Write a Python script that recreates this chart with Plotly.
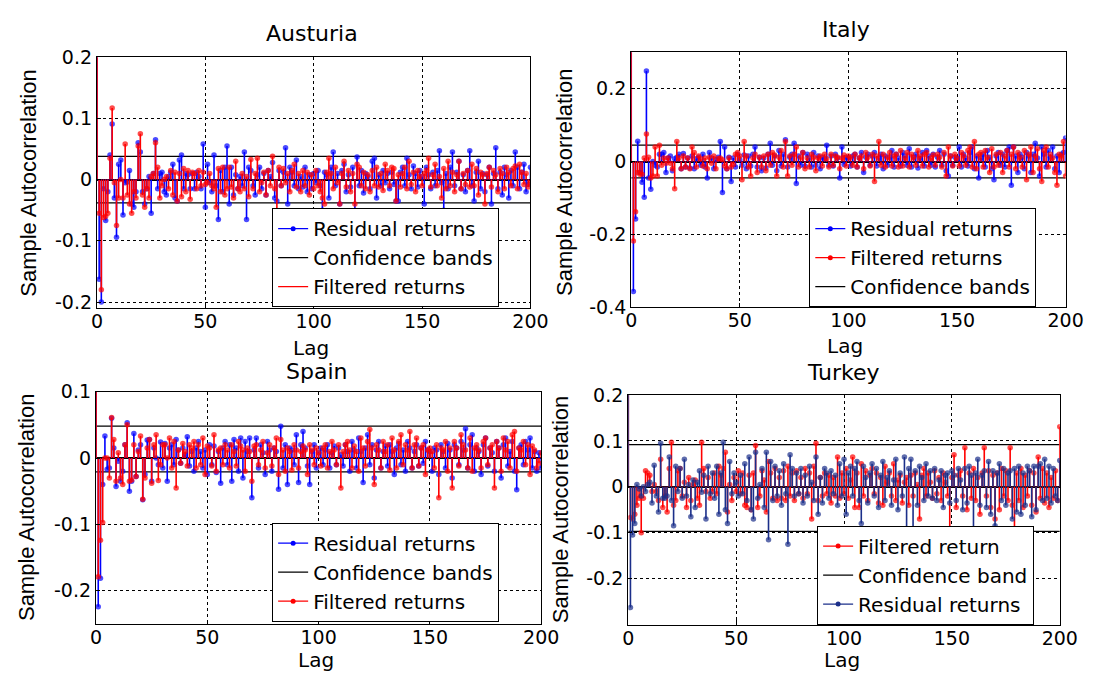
import plotly.graph_objects as go

# ---------------- data (lag 0 .. 200) ----------------
lags = list(range(0, 201))

aus_resid = [1.0,
 -0.163, -0.200, -0.015, -0.067, -0.020, 0.040, 0.091, -0.030, -0.094, 0.025,
 0.032, -0.058, -0.005, -0.004, 0.015, -0.040, -0.045, -0.020, 0.060, 0.045,
 -0.020, -0.040, -0.015, 0.005, -0.055, 0.010, 0.065, -0.015, 0.010, 0.012,
 -0.020, -0.025, 0.005, 0.012, 0.025, -0.030, -0.035, 0.032, 0.040, -0.015,
 0.010, 0.008, -0.015, 0.010, -0.015, 0.012, 0.005, -0.015, 0.058, -0.045,
 0.025, -0.005, -0.020, 0.040, -0.010, -0.065, 0.015, -0.020, 0.020, 0.055,
 -0.040, 0.020, -0.025, 0.008, -0.015, 0.005, -0.010, 0.045, -0.065, 0.020,
 0.015, -0.010, -0.025, 0.008, 0.020, -0.015, 0.010, -0.025, 0.015, 0.005,
 0.028, -0.030, -0.035, 0.015, -0.010, 0.012, 0.052, -0.040, 0.020, 0.012,
 -0.010, 0.032, -0.015, 0.005, -0.012, 0.020, -0.020, 0.008, -0.015, 0.010,
 -0.005, 0.015, -0.010, -0.050, 0.012, 0.008, -0.030, 0.020, 0.045, -0.010,
 0.010, -0.040, 0.015, 0.025, -0.020, 0.008, -0.012, 0.020, -0.065, 0.037,
 -0.010, 0.015, -0.022, 0.010, 0.005, -0.015, 0.030, 0.035, -0.030, 0.008,
 -0.010, 0.015, -0.005, 0.010, -0.015, 0.012, -0.008, -0.035, -0.035, 0.012,
 0.020, -0.010, 0.035, 0.008, -0.015, 0.022, 0.010, -0.012, 0.015, 0.005,
 -0.040, 0.020, 0.008, -0.015, 0.012, -0.010, 0.015, 0.047, -0.005, -0.050,
 0.010, -0.015, 0.020, 0.045, -0.010, 0.012, 0.030, -0.015, 0.008, -0.020,
 0.015, 0.047, -0.010, -0.035, 0.012, 0.030, -0.015, 0.010, -0.020, 0.008,
 0.020, -0.040, 0.010, 0.052, -0.015, 0.012, -0.025, 0.020, 0.008, -0.030,
 0.015, -0.010, 0.045, 0.020, -0.015, 0.012, 0.025, -0.020, -0.008, 0.020]

aus_filt = [1.0,
 -0.055, -0.180, -0.062, -0.060, -0.055, 0.035, 0.117, -0.005, -0.075, -0.030,
 0.000, -0.030, 0.058, -0.025, -0.040, -0.055, -0.020, -0.030, 0.055, 0.075,
 -0.025, -0.045, -0.015, -0.030, 0.005, 0.010, 0.060, 0.020, -0.030, -0.010,
 0.000, 0.005, -0.015, 0.015, -0.025, 0.012, -0.035, 0.010, -0.028, 0.018,
 -0.020, 0.015, -0.032, 0.012, 0.010, -0.015, 0.015, -0.010, 0.012, -0.008,
 -0.005, 0.010, -0.010, -0.015, -0.045, 0.018, -0.020, 0.020, -0.025, -0.015,
 0.020, -0.012, -0.030, 0.030, -0.015, -0.020, 0.010, -0.015, 0.005, -0.028,
 0.033, -0.015, 0.010, 0.035, -0.020, -0.005, 0.012, -0.025, 0.015, -0.010,
 0.038, -0.015, -0.055, 0.020, -0.010, 0.018, -0.005, 0.010, -0.020, 0.015,
 0.025, -0.012, 0.010, -0.020, 0.015, -0.010, 0.012, -0.025, 0.008, -0.015,
 0.015, -0.010, -0.020, -0.030, -0.040, 0.012, 0.035, 0.010, -0.015, 0.020,
 -0.005, -0.040, 0.010, 0.030, -0.012, 0.015, -0.020, 0.010, -0.040, 0.025,
 0.020, -0.010, 0.012, -0.015, 0.008, -0.020, 0.015, -0.010, 0.020, -0.012,
 0.010, -0.018, 0.025, 0.015, -0.010, 0.020, 0.018, -0.035, 0.008, -0.012,
 0.010, 0.020, -0.015, 0.030, -0.008, 0.012, -0.020, 0.015, 0.005, -0.010,
 0.010, 0.015, 0.035, -0.012, 0.008, 0.025, -0.010, 0.005, -0.030, 0.018,
 -0.015, 0.030, -0.010, 0.012, -0.020, 0.008, 0.030, -0.015, 0.010, -0.008,
 0.015, -0.012, 0.025, -0.010, 0.018, -0.025, 0.012, 0.008, -0.040, 0.010,
 0.020, -0.012, 0.015, 0.008, -0.020, 0.018, 0.010, -0.015, 0.020, 0.012,
 -0.010, 0.018, 0.022, -0.015, 0.025, 0.012, -0.008, 0.010, -0.012, -0.005]

ita_resid = [1.0,
 -0.357, -0.158, 0.056, -0.030, -0.057, -0.098, 0.249, -0.045, -0.076, 0.000,
 -0.010, -0.015, 0.020, 0.020, 0.025, -0.030, 0.010, 0.015, -0.025, 0.008,
 0.012, 0.020, -0.020, 0.022, -0.015, 0.010, -0.018, 0.015, -0.020, 0.008,
 0.012, -0.010, 0.020, -0.015, -0.045, 0.025, 0.010, -0.020, 0.005, 0.012,
 0.055, -0.085, 0.040, -0.020, 0.012, -0.055, 0.010, -0.015, 0.020, 0.005,
 -0.010, 0.018, -0.020, 0.015, -0.012, 0.020, 0.040, -0.015, 0.012, -0.025,
 0.010, -0.018, 0.020, 0.050, -0.010, 0.015, -0.025, 0.030, -0.012, 0.020,
 0.060, -0.015, 0.012, 0.020, 0.050, -0.060, 0.015, -0.010, 0.025, -0.012,
 0.020, 0.010, -0.015, 0.025, -0.010, 0.015, -0.020, 0.012, 0.008, 0.045,
 -0.010, 0.015, -0.012, 0.020, 0.010, -0.045, 0.040, -0.008, 0.012, 0.010,
 -0.012, 0.015, 0.020, -0.015, 0.010, 0.025, -0.030, 0.012, 0.020, -0.010,
 0.015, 0.025, -0.012, 0.010, 0.020, -0.020, 0.015, -0.010, 0.012, 0.030,
 -0.015, 0.020, 0.010, -0.012, 0.025, 0.015, -0.010, 0.035, -0.015, 0.012,
 0.020, -0.018, 0.010, 0.025, -0.012, 0.030, 0.015, -0.010, 0.020, -0.015,
 0.012, 0.030, -0.010, 0.020, -0.025, -0.040, 0.015, -0.010, 0.012, 0.008,
 0.040, -0.015, 0.020, 0.010, -0.012, 0.025, 0.040, -0.020, 0.015, -0.045,
 0.010, 0.020, -0.015, 0.030, 0.012, -0.020, -0.050, 0.015, 0.025, -0.010,
 0.020, -0.015, 0.030, 0.040, -0.065, 0.040, 0.015, -0.030, 0.020, 0.012,
 -0.020, 0.025, 0.015, -0.030, 0.020, 0.050, 0.010, -0.040, 0.040, 0.020,
 -0.015, 0.030, 0.012, 0.040, -0.020, 0.015, -0.030, 0.020, 0.025, 0.065]

ita_filt = [1.0,
 -0.218, -0.138, -0.030, -0.035, -0.035, 0.010, 0.076, 0.012, -0.045, -0.040,
 0.040, -0.040, 0.045, -0.010, 0.010, -0.005, 0.010, -0.005, -0.020, -0.075,
 0.055, 0.010, -0.020, 0.015, -0.015, 0.010, -0.020, 0.040, 0.025, -0.015,
 0.015, 0.008, -0.012, 0.010, -0.020, 0.012, -0.005, 0.015, -0.020, 0.008,
 0.010, 0.005, -0.012, -0.020, 0.010, -0.015, -0.008, 0.020, 0.025, 0.015,
 -0.050, 0.055, 0.015, -0.015, -0.040, 0.010, 0.020, -0.030, 0.012, -0.015,
 0.015, -0.025, 0.020, -0.010, 0.025, 0.018, -0.040, 0.012, 0.030, -0.015,
 0.055, -0.040, 0.015, -0.010, 0.020, 0.040, -0.015, 0.012, 0.025, -0.020,
 0.010, -0.015, 0.020, 0.012, -0.025, 0.010, 0.015, -0.012, 0.020, 0.008,
 -0.015, 0.020, -0.010, 0.015, 0.012, -0.020, 0.010, 0.018, -0.012, 0.015,
 0.012, -0.010, 0.020, -0.015, 0.010, 0.015, -0.020, 0.025, 0.012, -0.012,
 0.020, -0.055, 0.015, 0.055, -0.010, 0.020, -0.015, 0.012, 0.025, -0.012,
 0.015, 0.020, -0.015, 0.030, -0.012, 0.010, 0.025, -0.015, 0.020, 0.012,
 -0.010, 0.030, 0.015, -0.012, 0.020, 0.025, -0.015, 0.010, 0.018, -0.010,
 0.020, 0.012, -0.015, 0.025, -0.040, 0.040, 0.015, -0.012, 0.020, 0.010,
 -0.012, 0.025, 0.015, -0.010, 0.030, 0.040, -0.015, 0.055, -0.020, 0.020,
 0.025, -0.015, 0.030, 0.012, -0.030, 0.035, -0.015, 0.020, -0.010, 0.025,
 -0.030, 0.015, 0.030, -0.015, 0.020, 0.040, -0.020, 0.025, 0.012, -0.015,
 0.030, -0.050, 0.020, 0.040, -0.030, 0.015, 0.035, -0.020, -0.055, 0.030,
 0.040, -0.015, 0.020, 0.010, -0.030, -0.065, 0.020, 0.015, 0.055, -0.040]

spa_resid = [1.0,
 -0.224, -0.181, -0.040, 0.033, -0.017, -0.015, 0.060, 0.015, -0.043, -0.005,
 -0.035, -0.020, 0.020, 0.053, -0.050, -0.035, 0.037, -0.028, 0.012, 0.020,
 -0.063, -0.025, 0.027, 0.028, -0.035, 0.015, 0.000, -0.010, 0.024, -0.015,
 0.022, -0.035, 0.015, 0.020, -0.010, 0.028, 0.012, -0.008, 0.015, 0.005,
 0.032, -0.012, 0.010, -0.020, 0.015, 0.025, 0.010, -0.015, 0.012, -0.025,
 0.020, -0.010, 0.018, -0.022, 0.010, -0.038, 0.015, 0.025, -0.010, 0.020,
 -0.035, 0.028, 0.015, -0.020, 0.030, -0.030, 0.025, 0.010, 0.030, -0.060,
 0.012, 0.030, -0.015, 0.020, 0.008, -0.025, 0.025, 0.012, -0.020, 0.015,
 0.010, -0.047, 0.048, -0.015, 0.020, -0.040, 0.015, 0.012, -0.010, 0.035,
 -0.037, 0.020, 0.040, 0.015, -0.012, -0.040, 0.010, 0.020, -0.015, 0.008,
 0.015, -0.010, 0.012, 0.020, -0.015, 0.008, 0.018, -0.010, 0.015, 0.005,
 -0.012, 0.020, 0.010, -0.020, 0.025, 0.012, -0.015, 0.030, 0.010, -0.037,
 0.015, 0.035, -0.010, 0.020, -0.030, 0.012, 0.025, -0.015, 0.010, 0.018,
 -0.012, 0.020, 0.010, -0.025, 0.015, 0.022, -0.010, 0.012, -0.020, 0.025,
 0.015, -0.015, 0.010, 0.020, -0.012, 0.015, -0.008, 0.025, 0.012, 0.010,
 -0.020, 0.015, 0.012, -0.025, 0.020, 0.010, -0.015, 0.022, 0.012, -0.030,
 0.020, 0.015, -0.010, 0.025, 0.012, 0.044, -0.015, 0.020, 0.035, -0.020,
 0.015, 0.010, -0.025, 0.020, 0.030, -0.012, 0.015, 0.008, -0.020, 0.025,
 0.015, -0.030, 0.020, 0.030, -0.012, 0.010, 0.025, -0.020, -0.048, 0.015,
 0.020, -0.010, 0.025, 0.012, 0.030, -0.015, 0.010, -0.020, 0.008, -0.015]

spa_filt = [1.0,
 -0.179, -0.124, -0.097, 0.000, 0.000, -0.030, 0.061, 0.028, -0.035, 0.008,
 -0.030, -0.040, 0.020, 0.050, -0.035, -0.033, 0.020, -0.028, 0.010, 0.033,
 -0.062, -0.030, 0.015, 0.028, -0.038, 0.020, 0.035, -0.034, -0.010, 0.020,
 0.020, 0.000, 0.030, -0.015, 0.025, -0.045, 0.012, -0.008, 0.022, 0.010,
 -0.012, 0.020, 0.015, 0.025, -0.015, 0.020, -0.010, 0.030, -0.025, 0.018,
 0.015, -0.012, 0.035, -0.020, 0.012, 0.015, -0.010, 0.020, 0.012, -0.015,
 0.020, 0.010, -0.012, 0.025, 0.018, 0.012, -0.020, 0.015, 0.010, -0.035,
 0.018, 0.020, -0.010, 0.012, 0.025, -0.015, 0.008, 0.020, -0.012, 0.015,
 0.030, -0.025, 0.028, 0.012, -0.020, 0.015, 0.010, -0.018, 0.020, 0.012,
 -0.015, 0.010, 0.018, 0.012, -0.025, 0.020, 0.012, -0.010, 0.015, 0.008,
 -0.012, 0.015, 0.020, -0.015, 0.010, 0.025, 0.012, -0.010, 0.020, -0.045,
 0.010, 0.020, 0.025, 0.012, -0.015, 0.018, 0.010, -0.020, 0.030, 0.015,
 -0.012, 0.025, 0.043, 0.015, -0.040, 0.020, 0.012, -0.015, 0.025, 0.010,
 0.020, -0.018, 0.030, 0.012, -0.015, 0.025, 0.035, -0.010, 0.020, 0.012,
 0.040, -0.015, 0.020, 0.030, -0.012, 0.015, 0.020, -0.025, 0.012, 0.015,
 0.010, -0.015, 0.020, -0.060, 0.015, 0.012, 0.025, -0.020, 0.015, -0.045,
 0.025, 0.015, -0.012, 0.035, 0.020, 0.012, -0.015, 0.030, -0.020, 0.015,
 0.020, 0.012, -0.015, 0.025, 0.030, -0.010, 0.015, 0.020, -0.045, 0.025,
 0.015, -0.020, 0.030, 0.012, 0.025, -0.015, 0.035, 0.040, -0.020, 0.015,
 0.012, 0.025, -0.010, 0.020, -0.025, 0.018, 0.012, -0.015, -0.008, 0.008]

tur_resid = [1.0,
 -0.263, -0.105, -0.080, 0.005, -0.005, -0.020, 0.000, -0.010, 0.005, 0.010,
 -0.035, 0.047, -0.020, -0.055, 0.095, -0.025, -0.025, -0.020, 0.065, -0.030,
 -0.085, 0.045, -0.010, 0.040, -0.025, 0.060, -0.020, 0.005, -0.065, 0.015,
 -0.045, 0.010, 0.035, -0.012, 0.025, -0.070, 0.045, -0.015, 0.030, -0.025,
 0.045, -0.060, 0.030, 0.097, -0.050, -0.080, 0.055, -0.015, 0.030, 0.010,
 -0.020, 0.025, -0.015, 0.050, -0.030, 0.065, -0.050, -0.070, 0.075, -0.025,
 0.005, 0.040, -0.045, 0.075, -0.115, 0.055, -0.030, 0.045, -0.020, 0.035,
 -0.040, 0.050, -0.015, -0.125, 0.070, 0.040, -0.020, 0.030, -0.015, 0.040,
 -0.035, 0.025, -0.020, 0.045, 0.010, -0.030, 0.065, -0.060, 0.020, -0.035,
 0.040, 0.030, -0.025, 0.035, -0.015, 0.025, -0.040, 0.050, -0.020, 0.060,
 -0.060, 0.030, 0.045, -0.020, 0.040, 0.055, -0.030, -0.080, 0.045, 0.020,
 -0.035, 0.030, 0.050, -0.020, 0.040, -0.045, 0.025, 0.055, -0.030, 0.020,
 0.035, -0.040, 0.015, 0.060, -0.050, 0.030, -0.020, 0.065, -0.100, 0.040,
 0.060, -0.100, 0.035, -0.040, 0.045, 0.020, -0.030, 0.050, -0.020, 0.035,
 -0.025, 0.040, -0.030, 0.015, 0.035, -0.045, 0.025, 0.030, -0.035, 0.035,
 0.025, -0.030, 0.040, 0.015, -0.050, 0.040, -0.035, 0.045, 0.025, -0.095,
 0.030, 0.060, -0.040, 0.025, 0.035, -0.045, 0.055, -0.060, 0.035, -0.085,
 0.030, 0.050, -0.030, 0.040, -0.040, 0.030, 0.035, -0.070, 0.040, -0.055,
 0.045, -0.060, 0.030, -0.040, 0.045, 0.035, -0.065, 0.045, -0.050, 0.045,
 0.050, -0.030, 0.060, -0.025, 0.045, -0.035, 0.040, -0.020, -0.030, 0.057]

tur_filt = [1.0,
 -0.067, -0.070, -0.060, -0.040, -0.025, -0.100, -0.025, 0.035, 0.030, 0.025,
 -0.010, 0.005, -0.010, -0.030, 0.060, -0.045, -0.020, -0.055, 0.040, 0.097,
 -0.040, -0.030, 0.035, 0.040, -0.020, 0.010, -0.045, 0.020, -0.030, 0.005,
 0.015, -0.025, -0.040, 0.097, 0.040, -0.010, 0.020, -0.025, -0.010, 0.030,
 -0.015, 0.045, 0.025, 0.040, 0.075, -0.055, 0.005, -0.030, 0.020, -0.010,
 0.035, -0.015, 0.030, -0.040, -0.045, 0.025, -0.050, 0.030, 0.090, -0.045,
 -0.020, 0.035, 0.015, -0.055, 0.055, 0.030, -0.025, 0.040, -0.030, 0.020,
 -0.025, 0.035, -0.030, 0.045, -0.020, 0.030, -0.030, 0.035, -0.015, 0.020,
 -0.025, 0.040, -0.015, 0.030, -0.070, 0.045, 0.095, -0.030, 0.020, -0.020,
 0.030, -0.015, 0.025, -0.035, 0.020, -0.020, 0.065, -0.025, 0.030, -0.015,
 0.040, -0.025, 0.015, 0.065, -0.045, 0.030, -0.045, 0.050, -0.020, 0.035,
 -0.030, 0.025, 0.040, -0.015, 0.030, -0.035, 0.020, -0.040, 0.045, 0.010,
 0.030, -0.020, 0.050, -0.030, 0.015, 0.025, -0.035, 0.010, 0.020, -0.040,
 0.025, -0.020, 0.030, 0.005, -0.070, 0.025, 0.040, -0.020, 0.030, 0.010,
 -0.025, 0.035, -0.015, 0.020, -0.030, 0.030, 0.010, -0.020, -0.140, 0.020,
 0.070, -0.045, 0.025, 0.035, -0.020, 0.085, -0.050, 0.030, -0.025, 0.040,
 -0.030, 0.020, -0.060, 0.030, 0.085, -0.020, 0.035, -0.045, 0.025, -0.070,
 0.030, -0.050, 0.040, -0.020, 0.035, -0.030, 0.085, -0.040, -0.110, 0.030,
 -0.030, 0.040, -0.045, 0.025, -0.020, 0.035, -0.040, 0.030, -0.055, 0.065,
 -0.025, 0.040, -0.035, 0.030, -0.045, 0.020, -0.025, 0.035, -0.030, 0.131]

# confidence bands (upper, lower)
aus_conf = [0.038, -0.038]
ita_conf = [0.045, -0.045]
spa_conf = [0.048, -0.021]
tur_conf = [0.092, -0.097]

titles = ["Austuria", "Italy", "Spain", "Turkey"]
x_ticks = [0, 50, 100, 150, 200]

# ---------------- styling / layout ----------------
W, H = 1113, 684
BLUE, RED, NAVY, BLACK = "#0000FF", "#FF0000", "#1B2F8A", "#000000"
TXT = "DejaVu Sans"

def px_x(a, b):
    return [a / W, b / W]

def px_y(top, bottom):
    return [1 - bottom / H, 1 - top / H]

def stems(vals, lag_list):
    xs, ys, sz = [], [], []
    for lg, v in zip(lag_list, vals):
        xs += [lg, lg, None]
        ys += [0, v, None]
        sz += [0, 5.5, 0]
    return xs, ys, sz

panels = [
    dict(title=titles[0], xd=(93, 536), yd=(47.7, 307), yr=[-0.21, 0.2],
         yt=[-0.2, -0.1, 0, 0.1, 0.2], conf=aus_conf,
         draw=[("Residual returns", aus_resid, BLUE), ("Filtered returns", aus_filt, RED)],
         legend=[("Residual returns", BLUE, True), ("Confidence bands", BLACK, False),
                 ("Filtered returns", RED, False)],
         leg=(272, 306), tcx=313, tcy=23, lcx=312, lcy=348, lanchor="middle", ycx=23, ycy=178),
    dict(title=titles[1], xd=(639, 1083), yd=(42.7, 306), yr=[-0.4, 0.3],
         yt=[-0.4, -0.2, 0, 0.2], conf=ita_conf,
         draw=[("Residual returns", ita_resid, BLUE), ("Filtered returns", ita_filt, RED)],
         legend=[("Residual returns", BLUE, True), ("Filtered returns", RED, True),
                 ("Confidence bands", BLACK, False)],
         leg=(821, 306), tcx=859, tcy=19, lcx=858, lcy=346, lanchor="middle", ycx=571, ycy=177),
    dict(title=titles[2], xd=(92, 547), yd=(393.3, 633.3), yr=[-0.25, 0.1],
         yt=[-0.2, -0.1, 0, 0.1], conf=spa_conf,
         draw=[("Residual returns", spa_resid, BLUE), ("Filtered returns", spa_filt, RED)],
         legend=[("Residual returns", BLUE, True), ("Confidence bands", BLACK, False),
                 ("Filtered returns", RED, True)],
         leg=(272, 631), tcx=317, tcy=372, lcx=317, lcy=684, lanchor="bottom", ycx=21, ycy=513),
    dict(title=titles[3], xd=(636, 1077), yd=(396.7, 634), yr=[-0.3, 0.2],
         yt=[-0.2, -0.1, 0, 0.1, 0.2], conf=tur_conf,
         draw=[("Filtered return", tur_filt, RED), ("Residual returns", tur_resid, NAVY)],
         legend=[("Filtered return", RED, True), ("Confidence band", BLACK, False),
                 ("Residual returns", NAVY, True)],
         leg=(829, 634), tcx=856, tcy=374, lcx=854, lcy=684, lanchor="bottom", ycx=567, ycy=515),
]

fig = go.Figure()
annotations = []
layout = dict(width=W, height=H, margin=dict(l=0, r=0, t=0, b=0),
              paper_bgcolor="white", plot_bgcolor="white", showlegend=True)

for i, p in enumerate(panels):
    n = "" if i == 0 else str(i + 1)
    xa, ya = "x" + n, "y" + n
    lgname = "legend" + n

    # confidence band lines
    cx, cy = [], []
    for c in p["conf"]:
        cx += [x_ticks[0], x_ticks[-1], None]
        cy += [c, c, None]
    fig.add_trace(go.Scatter(x=cx, y=cy, mode="lines", line=dict(color=BLACK, width=1.3),
                             xaxis=xa, yaxis=ya, showlegend=False, hoverinfo="skip"))

    # stems
    for name, vals, col in p["draw"]:
        xs, ys, sz = stems(vals, lags)
        fig.add_trace(go.Scatter(x=xs, y=ys, mode="lines+markers",
                                 line=dict(color=col, width=1.6),
                                 marker=dict(color=col, size=sz, line=dict(width=0)),
                                 xaxis=xa, yaxis=ya, showlegend=False, cliponaxis=True))

    # legend entries
    for name, col, mk in p["legend"]:
        fig.add_trace(go.Scatter(x=[None], y=[None], mode="lines+markers" if mk else "lines",
                                 name=name, line=dict(color=col, width=1.3),
                                 marker=dict(color=col, size=5),
                                 xaxis=xa, yaxis=ya, legend=lgname, showlegend=True))

    axis_common = dict(showline=True, linecolor=BLACK, linewidth=1.3, mirror=True,
                       ticks="inside", ticklen=4, tickcolor=BLACK,
                       showgrid=True, gridcolor=BLACK, griddash="3px,3px", gridwidth=1.2,
                       tickfont=dict(family=TXT, size=19, color=BLACK))
    layout["xaxis" + n] = dict(axis_common, domain=px_x(*p["xd"]), anchor=ya,
                               range=[0, 200], tickvals=x_ticks, zeroline=False,
                               ticklabelstandoff=-4)
    layout["yaxis" + n] = dict(axis_common, domain=px_y(*p["yd"]), anchor=xa,
                               range=p["yr"], tickvals=p["yt"],
                               ticktext=[("%g" % t) for t in p["yt"]],
                               zeroline=True, zerolinecolor=BLACK, zerolinewidth=1.5)
    layout[lgname] = dict(x=p["leg"][0] / W, y=1 - p["leg"][1] / H, xanchor="left", yanchor="bottom",
                          bgcolor="white", bordercolor=BLACK, borderwidth=1,
                          font=dict(family=TXT, size=20, color=BLACK),
                          tracegroupgap=0, itemwidth=30)

    annotations.append(dict(text=p["title"], x=p["tcx"] / W, y=1 - p["tcy"] / H,
                            xref="paper", yref="paper", showarrow=False,
                            xanchor="center", yanchor="middle",
                            font=dict(family=TXT, size=22, color=BLACK)))
    annotations.append(dict(text="Lag", x=p["lcx"] / W, y=1 - p["lcy"] / H,
                            xref="paper", yref="paper", showarrow=False,
                            xanchor="center", yanchor=p["lanchor"], borderpad=0,
                            font=dict(family=TXT, size=20, color=BLACK)))
    annotations.append(dict(text="Sample Autocorrelation", x=p["ycx"] / W, y=1 - p["ycy"] / H,
                            xref="paper", yref="paper", showarrow=False, textangle=-90,
                            xanchor="center", yanchor="middle",
                            font=dict(family="Liberation Sans", size=22, color=BLACK)))

layout["annotations"] = annotations
fig.update_layout(**layout)
fig.write_html("out.html")
